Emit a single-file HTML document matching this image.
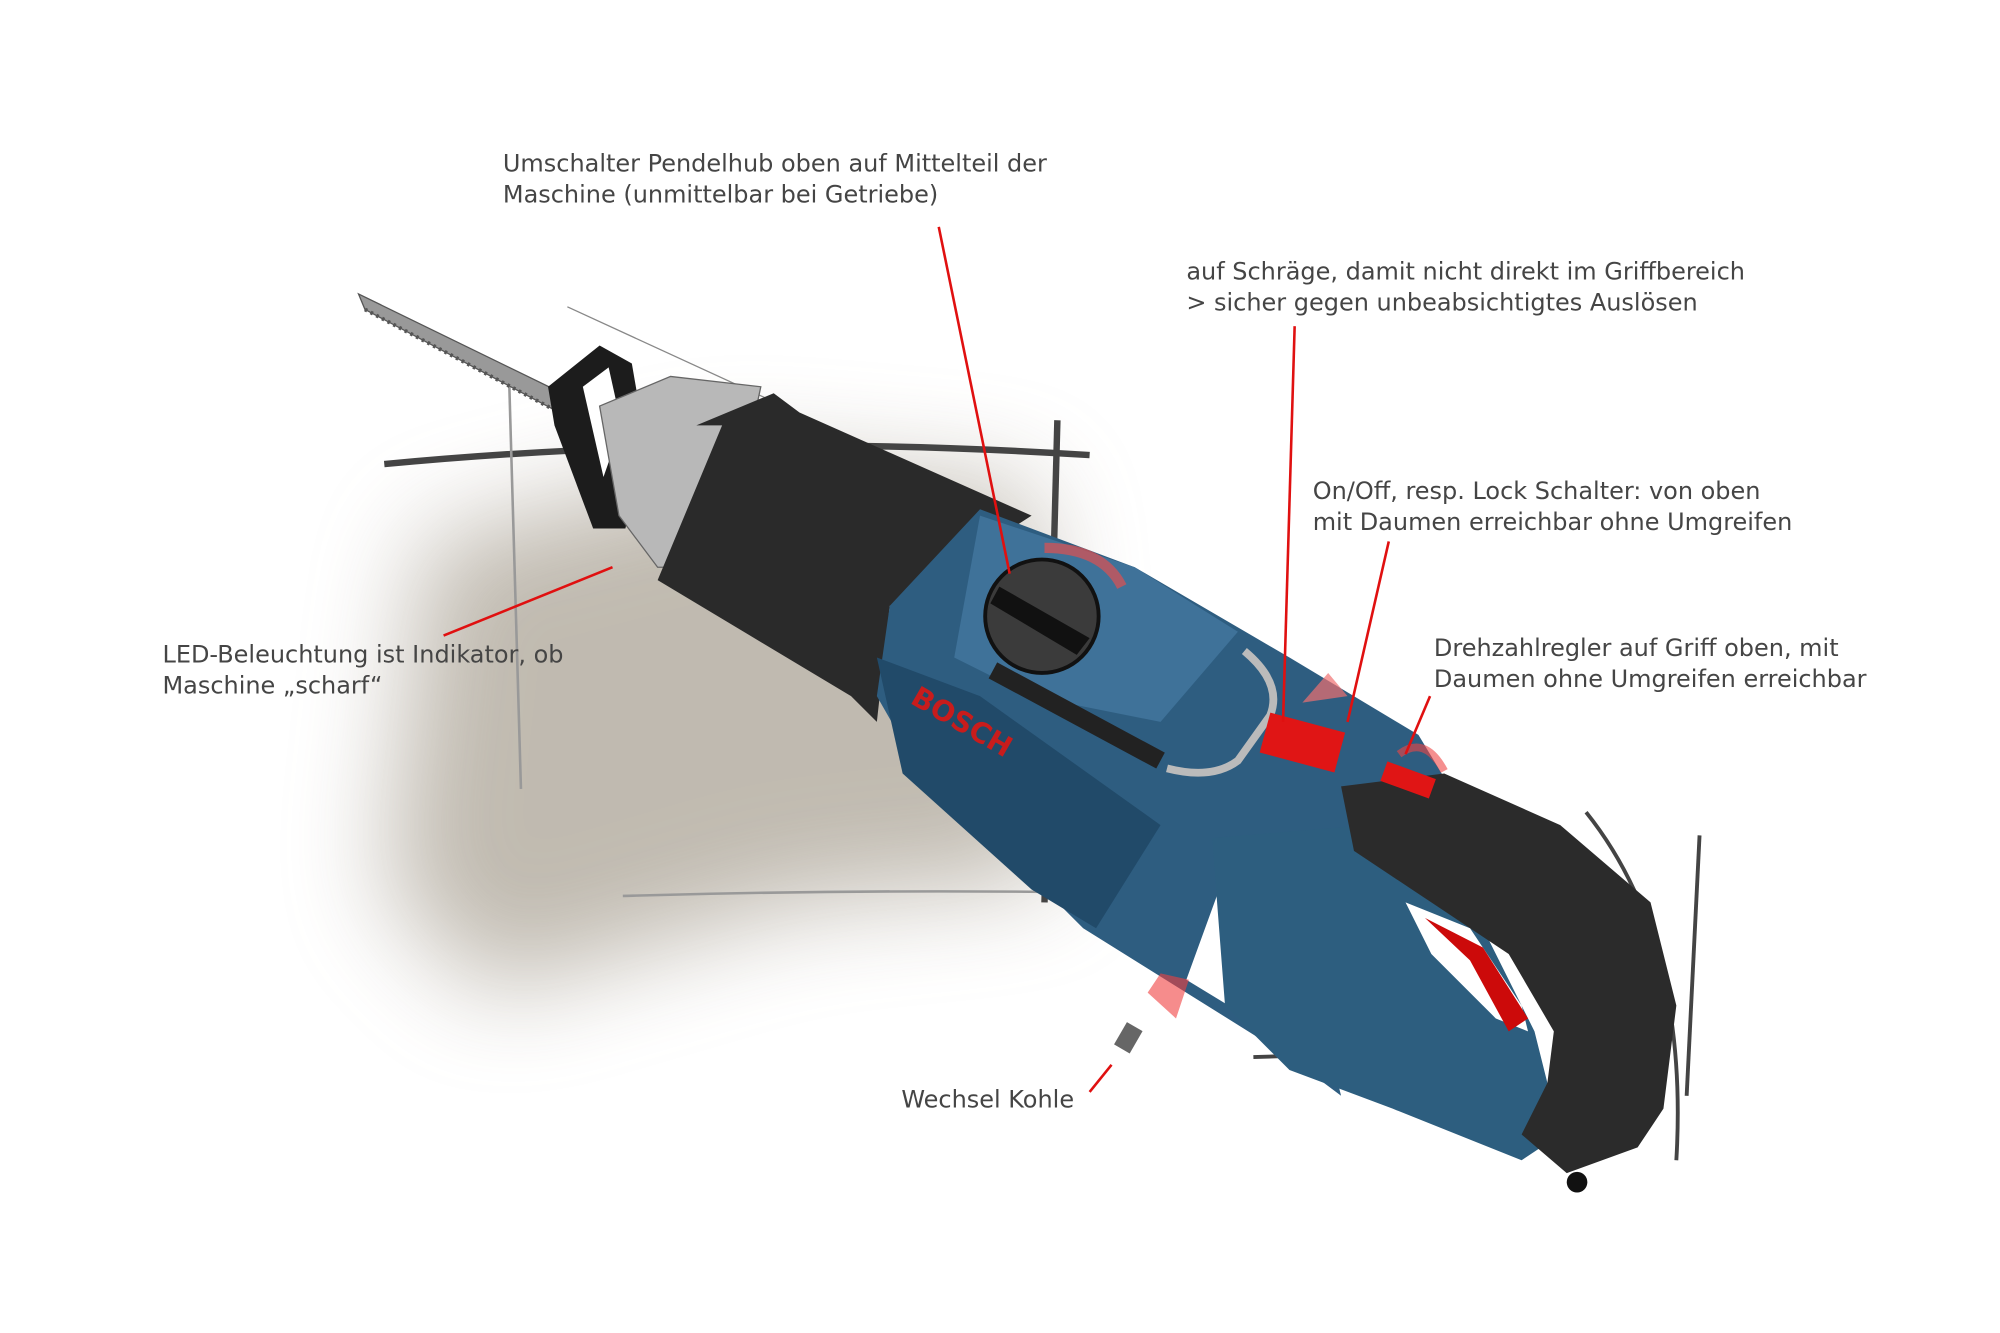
<!DOCTYPE html>
<html><head><meta charset="utf-8"><style>
html,body{margin:0;padding:0;background:#fff;width:2000px;height:1333px;overflow:hidden}
svg{display:block}
text{font-family:"DejaVu Sans","Liberation Sans",sans-serif;font-size:18.6px;fill:#454545}
</style></head><body>
<svg width="2000" height="1333" viewBox="0 0 1551 1034" preserveAspectRatio="none">
<defs>
<filter id="b" x="-30%" y="-30%" width="160%" height="160%"><feGaussianBlur stdDeviation="40"/></filter>
</defs>
<!-- shadow -->
<path d="M330 420 L560 360 L800 380 L820 680 L620 700 L380 770 L300 690 Z" fill="#8d8270" opacity="0.55" filter="url(#b)"/>
<!-- sketch lines -->
<g stroke="#444" fill="none">
<path d="M298 360 Q560 335 845 353" stroke-width="5"/>
<path d="M820 326 L810 700" stroke-width="5"/>
<path d="M395 300 L404 612" stroke-width="2" stroke="#999"/>
<path d="M483 695 Q650 690 830 692" stroke-width="2" stroke="#999"/>
<path d="M440 238 L640 330" stroke-width="1" stroke="#888"/>
<path d="M1230 630 Q1310 730 1300 900" stroke-width="3"/>
<path d="M1318 648 L1308 850" stroke-width="3"/>
<path d="M840 715 L1035 835" stroke-width="4"/>
<path d="M972 820 L1030 818" stroke-width="3"/>
</g>
<!-- blade -->
<polygon points="278,228 283,240 430,318 438,306" fill="#999" stroke="#555"/>
<path d="M283 240 L430 318" stroke="#555" stroke-width="3" stroke-dasharray="2 3"/>
<!-- clamp -->
<path d="M425 300 L465 268 L490 282 L500 340 L485 410 L460 410 L430 330 Z" fill="#1c1c1c"/>
<path d="M452 300 L472 285 L482 330 L468 370 Z" fill="#fff"/>
<!-- silver collar -->
<path d="M465 315 L520 292 L590 300 L560 440 L510 440 L480 400 Z" fill="#b8b8b8" stroke="#666"/>
<!-- black front housing -->
<path d="M540 330 L600 305 L620 320 L800 400 L690 470 L680 560 L660 540 L510 450 L560 330 Z" fill="#2a2a2a"/>
<!-- blue main body -->
<path d="M690 470 L760 395 L880 440 L1000 510 L1100 570 L1130 620 L1050 650 L1000 700 L960 650 L920 760 L1035 830 L1040 850 L1000 820 L840 720 L800 680 L720 610 L680 540 Z" fill="#2e5d80"/>
<path d="M680 510 L760 540 L900 640 L850 720 L800 690 L700 600 Z" fill="#214a69"/>
<path d="M760 400 L880 440 L960 490 L900 560 L800 540 L740 510 Z" fill="#3f7299"/>
<!-- lower blue -->
<path d="M940 650 L1060 640 L1140 700 L1190 800 L1210 880 L1180 900 L1080 860 L1000 830 L950 780 Z" fill="#2d5e7f"/>
<!-- handle black loop -->
<path d="M1040 610 L1120 600 L1210 640 L1280 700 L1300 780 L1290 860 L1270 890 L1215 910 L1180 880 L1200 840 L1205 800 L1170 740 L1110 700 L1050 660 Z" fill="#2b2b2b"/>
<path d="M1090 700 L1140 720 L1180 780 L1185 800 L1160 790 L1110 740 Z" fill="#fff"/>
<path d="M1105 712 L1150 735 L1185 790 L1170 800 L1140 745 Z" fill="#cc0a0a"/>
<circle cx="1223" cy="917" r="8" fill="#111"/>
<!-- dial -->
<circle cx="808" cy="478" r="44" fill="#3b3b3b" stroke="#111" stroke-width="3"/>
<path d="M775 455 L845 495 L835 508 L768 468 Z" fill="#111"/>
<path d="M810 425 Q855 425 870 455" stroke="#e05050" stroke-width="8" fill="none" opacity=".7"/>
<!-- bar -->
<path d="M770 520 L900 590" stroke="#222" stroke-width="14"/>
<path d="M905 596 Q940 605 960 590 L985 555 Q995 530 965 505" stroke="#bbb" stroke-width="6" fill="none"/>
<!-- red switches -->
<rect x="980" y="560" width="60" height="32" fill="#e01515" transform="rotate(15 1010 576)"/>
<rect x="1072" y="597" width="40" height="16" fill="#e01515" transform="rotate(20 1092 605)"/>
<path d="M1010 545 L1030 522 L1045 540" fill="#f07070" opacity=".7"/>
<path d="M1085 585 Q1105 570 1120 598" stroke="#e44" stroke-width="6" fill="none" opacity=".6"/>
<!-- bosch -->
<text x="705" y="545" transform="rotate(30 705 545)" style="font-weight:bold;font-size:22px;fill:#c81c1c">BOSCH</text>
<!-- arrow & carbon -->
<path d="M890 770 L900 755 L922 760 L912 790 Z" fill="#f04040" opacity=".6"/>
<rect x="868" y="795" width="14" height="20" fill="#666" transform="rotate(30 875 805)"/>
<!-- red leader lines -->
<g stroke="#e01010" stroke-width="2">
<line x1="728" y1="176" x2="783" y2="445"/>
<line x1="1004" y1="253" x2="995" y2="560"/>
<line x1="1077" y1="420" x2="1045" y2="560"/>
<line x1="1109" y1="540" x2="1090" y2="585"/>
<line x1="344" y1="493" x2="475" y2="440"/>
<line x1="845" y1="847" x2="862" y2="826"/>
</g>
<!-- labels -->
<text x="390" y="133">Umschalter Pendelhub oben auf Mittelteil der</text>
<text x="390" y="157">Maschine (unmittelbar bei Getriebe)</text>
<text x="920" y="217">auf Schräge, damit nicht direkt im Griffbereich</text>
<text x="920" y="241">&gt; sicher gegen unbeabsichtigtes Auslösen</text>
<text x="1018" y="387">On/Off, resp. Lock Schalter: von oben</text>
<text x="1018" y="411">mit Daumen erreichbar ohne Umgreifen</text>
<text x="1112" y="509">Drehzahlregler auf Griff oben, mit</text>
<text x="1112" y="533">Daumen ohne Umgreifen erreichbar</text>
<text x="126" y="514">LED-Beleuchtung ist Indikator, ob</text>
<text x="126" y="538">Maschine „scharf“</text>
<text x="699" y="859">Wechsel Kohle</text>
</svg>
</body></html>
